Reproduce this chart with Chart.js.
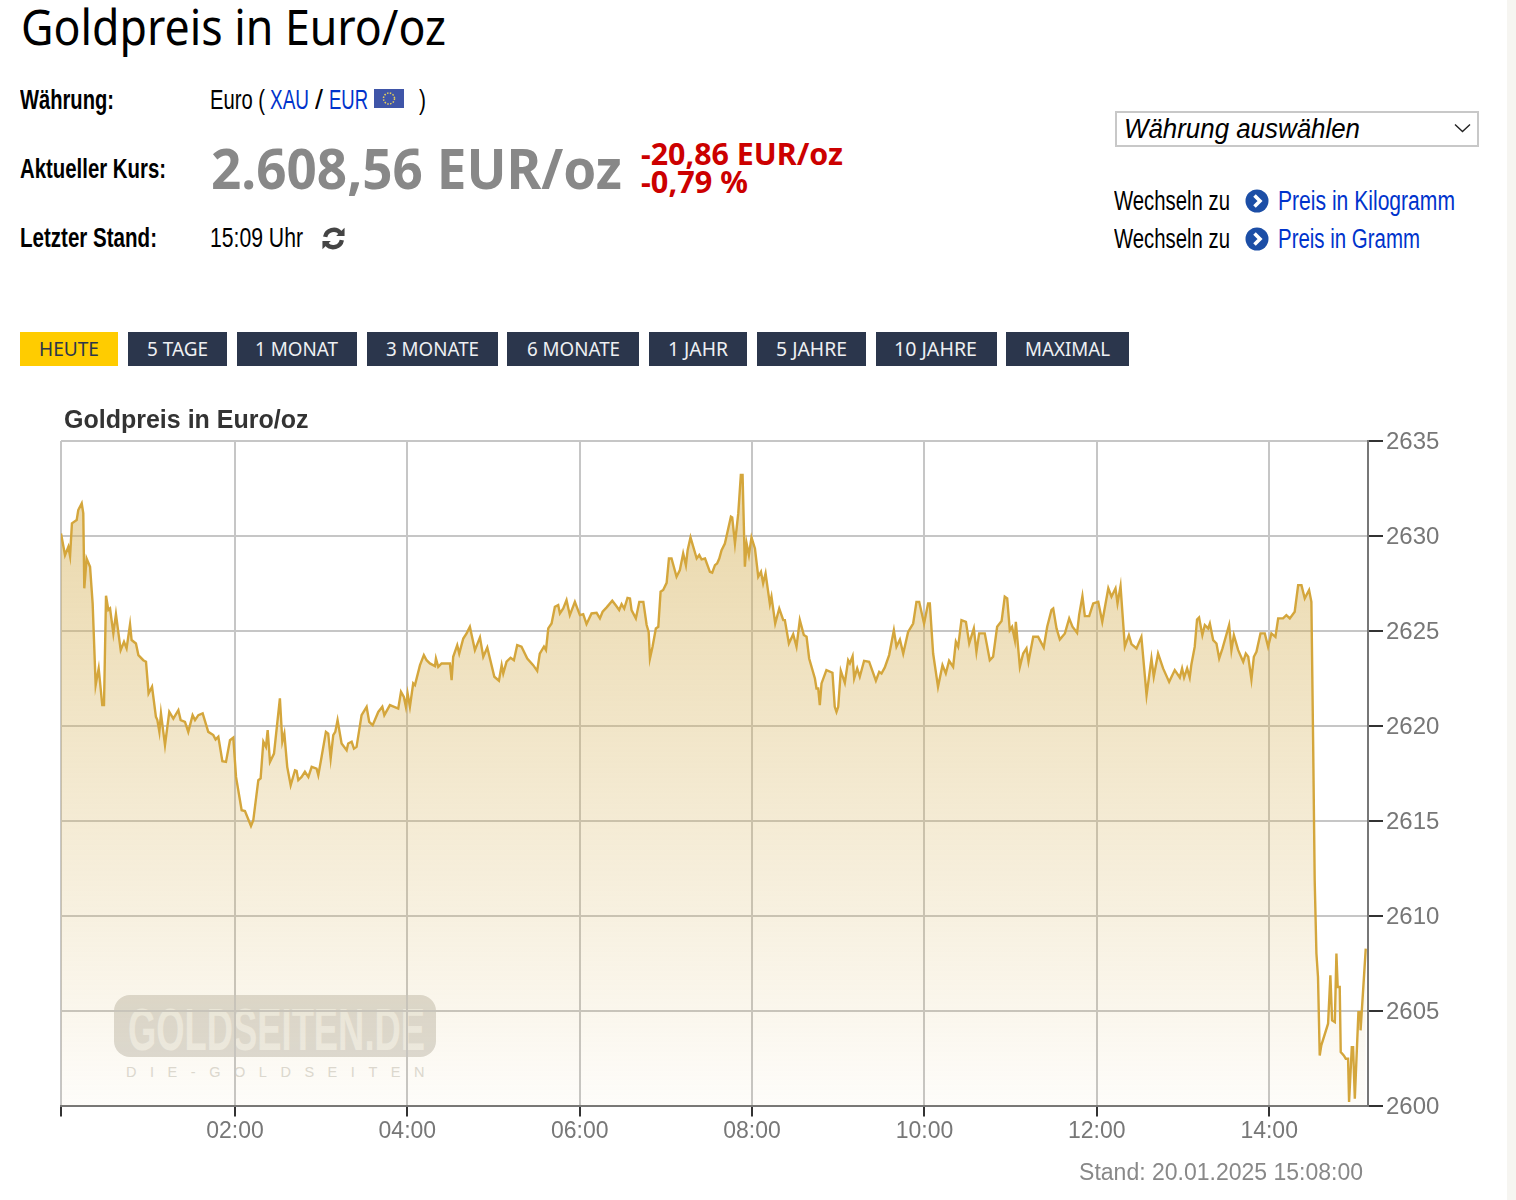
<!DOCTYPE html>
<html lang="de"><head><meta charset="utf-8"><title>Goldpreis in Euro/oz</title>
<script src="https://cdn.jsdelivr.net/npm/chart.js@4"></script>
<style>
html,body{margin:0;padding:0;background:#fff;width:1516px;height:1200px;overflow:hidden}
.t{position:absolute;white-space:nowrap;transform-origin:0 50%;line-height:1;color:#000}
.n{font-family:"Liberation Sans Narrow",sans-serif;font-size:27px}
.nb{font-family:"Liberation Sans Narrow",sans-serif;font-size:27px;font-weight:bold}
.a{color:#0033cc}
.r{color:#c00;font-family:"Noto Sans",sans-serif;font-weight:bold;font-size:30px}
.btn{position:absolute;top:332px;height:34px;background:#2b364c}
.bt{font-family:"Noto Sans",sans-serif;font-size:20px;color:#eef0f3}
svg{position:absolute}
#strip{position:absolute;left:1507px;top:0;width:9px;height:1200px;background:#f6f5f1}
#sel{position:absolute;left:1115px;top:111px;width:360px;height:32px;border:2px solid #c8c8c8}
#wm{position:absolute;left:114px;top:995px;width:322px;height:62px;border-radius:16px;background:#dddbd6}
#cv{position:absolute;left:60px;top:404px}
</style></head><body>
<div id="strip"></div>
<div class="t" style="left:21px;top:-7px;font:49px 'Noto Sans',sans-serif" data-w="425">Goldpreis in Euro/oz</div>
<div class="t nb" style="left:20px;top:87px" data-w="94">Währung:</div>
<div class="t nb" style="left:20px;top:156px" data-w="146">Aktueller Kurs:</div>
<div class="t nb" style="left:20px;top:225px" data-w="137">Letzter Stand:</div>
<div class="t n" style="left:210px;top:87px" data-w="55">Euro (</div>
<div class="t n a" style="left:270px;top:87px" data-w="39">XAU</div>
<div class="t n" style="left:315px;top:87px" data-w="8">/</div>
<div class="t n a" style="left:329px;top:87px" data-w="39">EUR</div>
<svg style="left:374px;top:89px" width="30" height="19" viewBox="0 0 30 19"><rect width="30" height="19" fill="#3f55a8"/><circle cx="15" cy="9.5" r="5.5" fill="none" stroke="#e6cf5a" stroke-width="1.5" stroke-dasharray="1.5 1.4"/></svg>
<div class="t n" style="left:419px;top:87px" data-w="7">)</div>
<div class="t" style="left:211px;top:129px;font:bold 56px 'Noto Sans',sans-serif;color:#888" data-w="411">2.608,56 EUR/oz</div>
<div class="t r" style="left:641px;top:139px" data-w="202">-20,86 EUR/oz</div>
<div class="t r" style="left:641px;top:167px" data-w="107">-0,79 %</div>
<div class="t n" style="left:210px;top:225px" data-w="93">15:09 Uhr</div>
<svg style="left:321px;top:226px" width="25" height="25" viewBox="0 0 24 24" fill="none" stroke="#444" stroke-width="4.2"><path d="M4 10.5A8.4 8.4 0 0 1 18.6 6.6"/><path d="M20 13.5A8.4 8.4 0 0 1 5.4 17.4"/><path d="M22.6 1.6V9.6H14.6Z" fill="#444" stroke="none"/><path d="M1.4 22.4V14.4H9.4Z" fill="#444" stroke="none"/></svg>
<div id="sel"></div>
<div class="t" style="left:1124px;top:114px;font:italic 27px 'Liberation Sans',sans-serif" data-w="236">Währung auswählen</div>
<svg style="left:1454px;top:123px" width="17" height="10" viewBox="0 0 17 10" fill="none" stroke="#222" stroke-width="1.4"><path d="M1 1.5L8.5 8.5L16 1.5"/></svg>
<div class="t n" style="left:1114px;top:188px" data-w="116">Wechseln zu</div>
<div class="t n" style="left:1114px;top:226px" data-w="116">Wechseln zu</div>
<svg style="left:1245px;top:189px" width="24" height="24" viewBox="0 0 24 24"><circle cx="12" cy="12" r="11.5" fill="#1c4ea6"/><path d="M9.5 6.5L15 12L9.5 17.5" fill="none" stroke="#fff" stroke-width="3.6"/></svg>
<svg style="left:1245px;top:227px" width="24" height="24" viewBox="0 0 24 24"><circle cx="12" cy="12" r="11.5" fill="#1c4ea6"/><path d="M9.5 6.5L15 12L9.5 17.5" fill="none" stroke="#fff" stroke-width="3.6"/></svg>
<div class="t n a" style="left:1278px;top:188px" data-w="177">Preis in Kilogramm</div>
<div class="t n a" style="left:1278px;top:226px" data-w="142">Preis in Gramm</div>

<div class="btn" style="left:20px;width:98px;background:#ffcc00"></div>
<div class="btn" style="left:128px;width:99px"></div>
<div class="btn" style="left:237px;width:120px"></div>
<div class="btn" style="left:367px;width:131px"></div>
<div class="btn" style="left:507px;width:132px"></div>
<div class="btn" style="left:649px;width:98px"></div>
<div class="btn" style="left:757px;width:109px"></div>
<div class="btn" style="left:876px;width:121px"></div>
<div class="btn" style="left:1006px;width:123px"></div>
<div class="t bt" style="left:39px;top:339px;color:#2b364c" data-w="60">HEUTE</div>
<div class="t bt" style="left:147px;top:339px" data-w="61">5 TAGE</div>
<div class="t bt" style="left:255px;top:339px" data-w="83">1 MONAT</div>
<div class="t bt" style="left:386px;top:339px" data-w="93">3 MONATE</div>
<div class="t bt" style="left:527px;top:339px" data-w="93">6 MONATE</div>
<div class="t bt" style="left:668px;top:339px" data-w="60">1 JAHR</div>
<div class="t bt" style="left:776px;top:339px" data-w="71">5 JAHRE</div>
<div class="t bt" style="left:894px;top:339px" data-w="83">10 JAHRE</div>
<div class="t bt" style="left:1025px;top:339px" data-w="85">MAXIMAL</div>

<div id="wm"></div>
<div class="t" style="left:128px;top:995px;font:bold 60px 'Liberation Sans Narrow',sans-serif;color:#eeede8" data-w="297">GOLDSEITEN.DE</div>
<div class="t" style="left:126px;top:1063px;font:15px 'Liberation Sans Narrow',sans-serif;color:#dcdad5;letter-spacing:14px" data-w="312">DIE-GOLDSEITEN</div>

<canvas id="cv" width="1399" height="783" style="width:1399px;height:783px"></canvas>
<script>
const chartTitle = 'Goldpreis in Euro/oz';
const standText = 'Stand: 20.01.2025 15:08:00';
const xTickMinutes = [-1.1, 120, 240, 360, 480, 600, 720, 840];
const xTickLabels = ['', '02:00', '04:00', '06:00', '08:00', '10:00', '12:00', '14:00'];
const yTickStep = 5;
const clockScale = 1.00125, clockShift = -1.1;
const minutes = [0,2.8,5.1,6.3,7.6,10.9,12,14.4,15.5,16.2,17.8,20.2,22,24.1,26.2,28.7,29.9,31.3,32.9,34.1,36.4,38.2,41.5,43.8,45.6,48,49.1,52.1,53.8,57.2,59.1,60.9,63.3,66,67,68.4,69.5,72.3,75.3,78.1,81.6,83.2,86.2,88.5,91.5,93.2,95.5,98.5,102.4,105.9,107.5,109.4,112.2,114.7,117.5,119.8,121.7,125.6,127.9,132.1,133.7,137.2,138.8,140.7,142.5,143.7,145.3,148.1,152.2,153.9,155.3,157.3,159.7,162.7,163.8,165,167.3,169.6,172,174.3,177.7,178.9,181.2,184.2,185.8,187.5,189.3,190.7,192.3,195.1,198.6,199.7,202.1,203.7,205.5,209,212.5,214.3,216.7,220.6,223.4,224.8,228.7,234.5,236.4,238.4,239.8,241,242.6,244.9,246.1,249.6,252.3,254.2,256.5,260,260.7,262.3,264.6,270.4,271.6,272.7,275.5,276.9,279.7,282,284.3,287.8,291.3,293.6,296.4,301.3,304.5,306.4,307.5,309.8,312.6,314.9,317.2,320.2,324.2,328.3,331.1,332.9,335.8,337.2,338.8,341.1,343.4,345.7,346.9,349.2,351.5,353.8,357.3,360.8,363.1,365.4,368.9,372.4,374.7,376.6,379.4,383.3,385.6,388.1,389.8,391.6,393.9,395.6,396.7,399.7,402.1,404.9,407.2,408.6,409.5,411.3,413.6,415.3,416.9,418.7,421.1,422.7,424.5,428,430.3,432.6,434.5,435.7,437.7,442,443.8,445.4,447.8,451.2,452.8,454.7,456.2,457.7,459.3,461.6,465.8,466.7,468.6,470.9,472.7,473.9,475.5,476.7,478.3,480.1,482.5,484.8,486.7,488.2,489.9,492.9,494,496.6,499.4,502.2,503.3,506.1,509.1,511.4,513.7,516.5,518.4,520.2,524.2,525.3,526.5,527.6,528.8,532.2,536.4,538,539.2,540.4,542.2,545,547.3,548.5,550.4,551.5,553.6,555.4,558.4,561.9,566.6,568.9,570.5,572.8,575.8,579.1,580.9,583.3,585.6,589,592.5,594.8,596.7,600.1,602.9,604.1,606.4,609.8,612.9,615.2,617.5,620.3,622.2,623.8,626.1,629.2,631.5,634.7,636.5,638.4,642.3,645.8,648.1,650.9,654,656.2,657.9,659.7,661.3,663.2,663.9,666.7,669,671.3,672.7,676,679.4,683.3,685.7,688.7,689.9,692.2,694.5,698,701,703.3,706.5,707.9,710.2,711.9,714.9,717.7,721.2,724,728.2,730.4,733.2,734.6,736.7,739.7,742.5,744.3,747.8,751.2,754.8,758.2,759.8,762.8,766.3,770.5,774.4,777.9,779.5,780.9,783,784.8,786,788.3,789.9,791.3,793.6,795.3,797.6,798.8,801.1,803.4,805.3,807.6,812.2,813.8,815.5,818.5,822,823.8,825.5,827.7,829.4,831.2,834,837,839.3,841.6,844.4,846.3,849.7,852,854.4,857.8,860.2,862.5,864.8,867.8,869.4,870.6,871.7,872.9,874,875.2,876.3,881,882.6,883.8,885.7,886.8,887.7,889.1,889.8,891.9,893.3,894.9,895.6,897.5,898.4,899.6,902.1,903.5,903.6,907.2];
const prices = [2630.14,2629,2629.44,2628.95,2630.67,2630.84,2631.37,2631.72,2631.19,2627.25,2628.82,2628.39,2626.46,2622.16,2623.04,2621.11,2621.11,2626.86,2626.11,2626.19,2624.88,2625.89,2624,2624.44,2624.09,2625.35,2624.53,2624.35,2623.74,2623.47,2623.39,2621.72,2622.07,2620.49,2620.32,2619.7,2620.67,2619,2620.75,2620.4,2620.84,2620.32,2620.23,2619.7,2620.58,2620.32,2620.58,2620.67,2619.7,2619.53,2619.3,2619.44,2618.16,2618.12,2619.26,2619.4,2617.33,2615.58,2615.54,2614.75,2615.05,2617.16,2617.25,2619.18,2618.91,2619.79,2618.12,2618.56,2621.46,2619.18,2619.61,2617.86,2616.89,2617.68,2617.65,2617.16,2617.33,2617.6,2617.33,2617.86,2617.77,2617.42,2618.39,2619.7,2619.61,2618.3,2619.53,2619.7,2620.32,2619.09,2618.74,2619.09,2619.18,2618.82,2618.91,2620.58,2621.02,2620.23,2620.05,2620.75,2621.02,2620.58,2621.11,2620.93,2621.81,2621.54,2621.02,2621.72,2621.02,2622.25,2622.16,2623.21,2623.74,2623.47,2623.3,2623.16,2623.56,2623.12,2623.3,2623.3,2622.42,2623.65,2624.26,2623.82,2624.61,2624.88,2625.23,2624,2624.67,2623.65,2624.14,2622.6,2622.39,2623.21,2622.77,2623.39,2623.6,2623.47,2624.26,2624.18,2623.56,2623.21,2622.91,2623.82,2624.18,2624,2625.14,2625.4,2626.28,2626.37,2625.93,2626.19,2626.63,2625.84,2626.54,2625.84,2625.89,2625.37,2625.93,2625.96,2625.67,2626.02,2626.25,2626.6,2626.37,2626.11,2626.42,2626.19,2626.75,2626.72,2626.11,2625.67,2626.54,2626.54,2625.32,2624.96,2623.56,2624.18,2625.14,2625.23,2627.07,2627.16,2627.54,2628.82,2628.82,2627.86,2628.21,2629.09,2628.47,2629.26,2629.93,2628.82,2629,2628.77,2628.82,2628.12,2628.07,2628.47,2628.56,2628.82,2629.26,2629.61,2631.02,2630.98,2629.61,2631.19,2633.21,2633.21,2628.39,2629.61,2629,2629.93,2629.35,2627.86,2628.12,2627.51,2628.04,2626.42,2626.81,2625.4,2626.19,2625.58,2625.58,2624.35,2624.84,2624.18,2625.58,2624.79,2624.7,2623.56,2622.51,2621.98,2621.98,2621.11,2622.25,2622.95,2622.81,2621.02,2620.75,2621.02,2622.91,2622.28,2623.47,2623.3,2623.68,2622.51,2623.04,2622.6,2623.44,2623.39,2622.39,2622.86,2622.77,2623.09,2623.74,2625.05,2624.18,2624.56,2623.82,2624.96,2625.4,2626.54,2626.54,2625.4,2626.46,2626.46,2623.82,2622.07,2623.21,2622.77,2623.44,2623.12,2624.44,2624.18,2625.58,2625.49,2624.35,2625.14,2623.91,2624.88,2624.88,2623.47,2623.65,2625.23,2625.53,2626.81,2626.72,2625.05,2625.23,2624.53,2625.49,2623.12,2623.82,2624.09,2623.39,2624.7,2624.7,2624.14,2625.23,2626.11,2626.19,2625.14,2624.56,2624.88,2625.67,2625.23,2624.91,2625.84,2626.84,2625.79,2625.79,2626.46,2626.54,2625.49,2627.25,2626.81,2627.25,2626.46,2627.37,2624.18,2624.79,2624.32,2624.09,2624.7,2621.63,2623.56,2622.6,2623.82,2623.04,2622.33,2622.95,2622.56,2623.04,2622.56,2623.04,2622.56,2623.26,2624.18,2625.61,2625.72,2624.79,2625.32,2625.14,2625.4,2624.53,2624.35,2623.56,2624.09,2625.32,2624,2624.79,2624,2623.39,2623.82,2623.65,2622.46,2623.65,2623.91,2624.88,2624.88,2624.18,2624.88,2624.7,2625.67,2625.67,2625.84,2625.67,2626.02,2627.42,2627.42,2626.72,2627.16,2626.54,2619.26,2611.89,2608.04,2606.81,2602.68,2603.21,2604.35,2606.89,2604.53,2604.44,2608.04,2606.28,2606.28,2602.86,2602.68,2602.51,2602.51,2600.23,2603.12,2603.12,2600.4,2604.96,2604.96,2604,2608.3];

document.querySelectorAll('[data-w]').forEach(el => {
  const w = el.getBoundingClientRect().width;
  el.style.transform = 'scaleX(' + (+el.dataset.w / w) + ')';
});

const gridGrey = '#c6c6c6', axisGrey = '#777', tickText = '#777';
Chart.defaults.font.family = '"Liberation Sans", Arial, sans-serif';
const nudge = { id: 'nudge', afterLayout(c) {
  c.titleBlock.left += 3;
  const s = c.boxes.find(b => b.position === 'bottom' && !b.axis);
  s.right = c.chartArea.right - 5;
}};
new Chart(document.getElementById('cv'), {
  type: 'line',
  plugins: [nudge],
  data: { datasets: [{
    data: minutes.map((m, i) => ({ x: m * clockScale + clockShift, y: prices[i] })),
    borderColor: '#d4a63c', borderWidth: 2.4, pointRadius: 0, tension: 0, fill: 'start',
    backgroundColor(ctx) {
      const a = ctx.chart.chartArea;
      if (!a) return 'rgba(212,170,70,.3)';
      const g = ctx.chart.ctx.createLinearGradient(0, a.top, 0, a.bottom);
      g.addColorStop(0, 'rgba(214,178,90,.55)');
      g.addColorStop(.75, 'rgba(214,178,90,.17)');
      g.addColorStop(1, 'rgba(214,178,90,.03)');
      return g;
    }
  }]},
  options: {
    responsive: false, animation: false, devicePixelRatio: 1,
    layout: { padding: { left: 1, right: 0, top: 0, bottom: 0 } },
    plugins: {
      legend: { display: false }, tooltip: { enabled: false },
      title: { display: true, text: chartTitle, align: 'start', color: '#333',
        font: { size: 25, weight: 'bold', lineHeight: 1.2 }, padding: { top: 2, bottom: 5 } },
      subtitle: { display: true, text: standText, position: 'bottom', align: 'end', color: '#888',
        font: { size: 23, weight: 'normal', lineHeight: 1.2 }, padding: 0 }
    },
    scales: {
      x: { type: 'linear', min: -1.1, max: 908.8,
        afterFit(s) { s.height = 53; },
        afterBuildTicks(s) { s.ticks = xTickMinutes.map(v => ({ value: v })); },
        grid: { color: gridGrey, lineWidth: 2, tickColor: '#333', tickWidth: 2, tickLength: 10 },
        border: { color: axisGrey, width: 2 },
        ticks: { autoSkip: false, maxRotation: 0, color: tickText, padding: 1,
          font: { size: 23 }, callback: (v, i) => xTickLabels[i] }
      },
      y: { position: 'right', min: 2600, max: 2635,
        afterFit(s) { s.width = 91; },
        grid: { color: gridGrey, lineWidth: 2, tickColor: '#333', tickWidth: 2, tickLength: 15 },
        border: { color: axisGrey, width: 2 },
        ticks: { stepSize: yTickStep, color: tickText, padding: 3, labelOffset: 1, font: { size: 24 }, callback: v => String(v) }
      }
    }
  }
});
</script>
</body></html>
